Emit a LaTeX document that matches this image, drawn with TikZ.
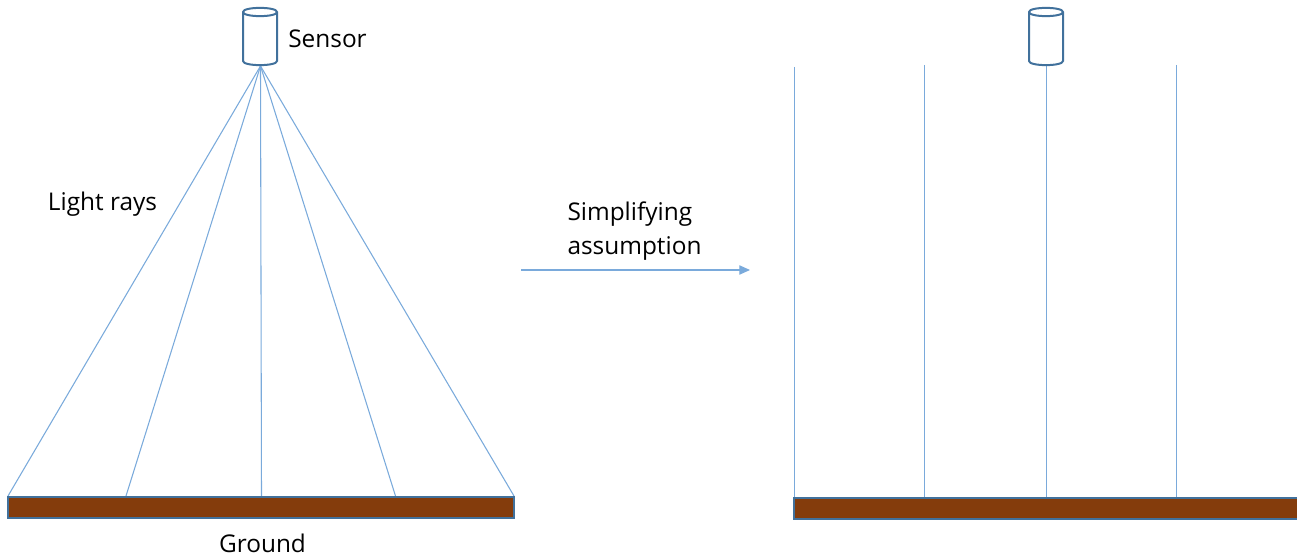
\documentclass[tikz,border=0pt]{standalone}
\usepackage{fontspec}
\setmainfont{Open Sans}
\usetikzlibrary{arrows.meta}
\definecolor{ray}{HTML}{7AAADB}
\definecolor{edgeblue}{HTML}{41719C}
\definecolor{ground}{HTML}{843C0C}
\tikzset{
  x=0.75pt,y=-0.75pt,
  lightray/.style={draw=ray,line width=0.8pt},
  groundbar/.style={draw=edgeblue,fill=ground,line width=1.5pt},
  sensorbody/.style={draw=edgeblue,fill=white,line width=1.5pt},
  lbl/.style={font=\fontsize{18.3pt}{25.5pt}\selectfont,text=black,inner sep=0pt},
  lblone/.style={lbl,anchor=base},
  lbltwo/.style={lbl,anchor=center,align=left}
}
\newcommand{\sensorshape}[1]{%
  \draw[sensorbody] (#1-17,12) -- (#1-17,61) .. controls (#1-17,66.5) and (#1+17,66.5) .. (#1+17,61) -- (#1+17,12)
     .. controls (#1+17,6.5) and (#1-17,6.5) .. (#1-17,12) -- cycle;
  \draw[sensorbody] (#1-17,12) .. controls (#1-17,17.5) and (#1+17,17.5) .. (#1+17,12);
}
\begin{document}
\begin{tikzpicture}
\useasboundingbox (0,0) rectangle (1297,556);
% left
\coordinate (s1) at (260.5,66);
\coordinate (g1a) at (8,496);
\coordinate (g1b) at (126,496);
\coordinate (g1c) at (261.5,496);
\coordinate (g1d) at (395.5,496);
\coordinate (g1e) at (514,496);
\foreach \e in {g1a,g1b,g1c,g1d,g1e} \draw[lightray] (s1) -- (\e);
\draw[groundbar] (8,496.5) rectangle (514,518);
\sensorshape{260}
\node[lblone] (sensor) at (327.5,48) {Sensor};
\node[lblone] (rays) at (102.5,210.5) {Light rays};
\node[lblone] (groundlbl) at (262.5,552.5) {Ground};
% arrow
\node[lbltwo] (simp) at (634.5,231.5) {Simplifying\\assumption};
\coordinate (arra) at (521,270);
\coordinate (arrb) at (750,270);
\draw[lightray,-{Triangle[length=8pt,width=7pt]}] (arra) -- (arrb);
% right
\coordinate (r1t) at (794.5,67);
\coordinate (r1b) at (794.5,497);
\coordinate (r2t) at (924.5,65);
\coordinate (r2b) at (924.5,497);
\coordinate (r3t) at (1046.5,65);
\coordinate (r3b) at (1046.5,497);
\coordinate (r4t) at (1176.5,65);
\coordinate (r4b) at (1176.5,497);
\draw[lightray] (r1t) -- (r1b);
\draw[lightray] (r2t) -- (r2b);
\draw[lightray] (r3t) -- (r3b);
\draw[lightray] (r4t) -- (r4b);
\draw[groundbar] (794,498) rectangle (1300,519);
\sensorshape{1046}
\end{tikzpicture}
\end{document}
